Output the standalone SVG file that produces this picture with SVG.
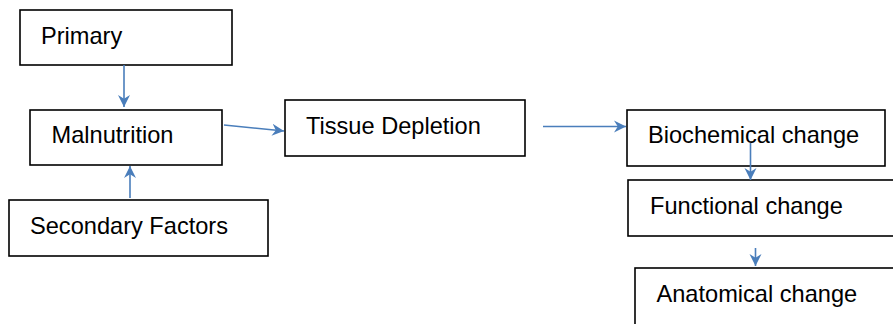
<svg xmlns="http://www.w3.org/2000/svg" width="893" height="324" viewBox="0 0 893 324">
  <style>
    .box { fill: #ffffff; stroke: #000000; stroke-width: 1.6; }
    .lbl { font-family: "Liberation Sans", Arial, sans-serif; font-size: 23.6px; fill: #000000; }
    .conn { stroke: #4a7ebb; stroke-width: 1.6; fill: none; marker-end: url(#arrow); }
  </style>
  <defs>
    <marker id="arrow" markerUnits="userSpaceOnUse" markerWidth="13" markerHeight="13" refX="12" refY="6.5" orient="auto">
      <path d="M0,0.5 L12,6.5 L0,12.5 L3.8,6.5 z" fill="#4a7ebb"/>
    </marker>
  </defs>
  <rect width="893" height="324" fill="#ffffff"/>

  <g id="primary">
    <rect class="box" x="20" y="10" width="212" height="55"/>
    <text class="lbl" x="41" y="43.5">Primary</text>
  </g>
  <g id="malnutrition">
    <rect class="box" x="30" y="110" width="192" height="55"/>
    <text class="lbl" x="51.5" y="143">Malnutrition</text>
  </g>
  <g id="secondary-factors">
    <rect class="box" x="9" y="200" width="259" height="56"/>
    <text class="lbl" x="30" y="233.5">Secondary Factors</text>
  </g>
  <g id="tissue-depletion">
    <rect class="box" x="285" y="100" width="240" height="56"/>
    <text class="lbl" x="306" y="133.5">Tissue Depletion</text>
  </g>
  <g id="biochemical-change">
    <rect class="box" x="627" y="110" width="258" height="56"/>
    <text class="lbl" x="648" y="143">Biochemical change</text>
  </g>
  <g id="functional-change">
    <rect class="box" x="628" y="180" width="270" height="56"/>
    <text class="lbl" x="650" y="213.5">Functional change</text>
  </g>
  <g id="anatomical-change">
    <rect class="box" x="635" y="268" width="270" height="62"/>
    <text class="lbl" x="656.5" y="302">Anatomical change</text>
  </g>

  <g id="connectors">
    <line class="conn" x1="124" y1="65" x2="124" y2="107"/>
    <line class="conn" x1="130" y1="198" x2="130" y2="166"/>
    <line class="conn" x1="224" y1="125" x2="284" y2="131"/>
    <line class="conn" x1="543" y1="126.5" x2="626" y2="126.5"/>
    <line class="conn" x1="750.5" y1="143" x2="750.5" y2="180"/>
    <line class="conn" x1="755.5" y1="248" x2="755.5" y2="266"/>
  </g>
</svg>
